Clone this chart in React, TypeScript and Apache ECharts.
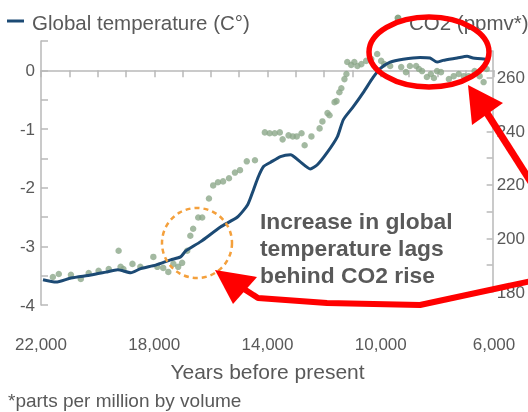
import { useEffect, useRef } from 'react';
import * as echarts from 'echarts';

// Global temperature (°C anomaly) – years before present
const tempYears = [21930, 21470, 20940, 20240, 19710, 19290, 18830, 18480, 17950, 17420, 17070, 16890, 16360, 15660, 15060, 14700, 14490, 14320, 14140, 13900, 13540, 13190, 12840, 12490, 12240, 11890, 11530, 11320, 10970, 10620, 10270, 10020, 9670, 9210, 8610, 8260, 8010, 7800, 7300, 6950, 6740, 6280];
const tempValues = [-3.57, -3.61, -3.54, -3.49, -3.44, -3.40, -3.45, -3.38, -3.32, -3.23, -3.18, -3.08, -2.92, -2.67, -2.50, -2.29, -2.03, -1.81, -1.64, -1.57, -1.47, -1.44, -1.56, -1.68, -1.61, -1.40, -1.13, -0.84, -0.62, -0.38, -0.12, 0.03, 0.14, 0.19, 0.22, 0.21, 0.14, 0.17, 0.21, 0.24, 0.21, 0.19];

// CO2 (ppmv) – years before present
const co2Years = [21580, 21370, 20940, 20590, 20310, 19960, 19600, 19250, 19180, 19080, 18760, 18480, 18020, 17880, 17670, 17490, 17310, 17140, 17000, 16820, 16710, 16610, 16430, 16290, 16050, 15900, 15730, 15550, 15340, 15130, 14950, 14710, 14420, 14070, 13900, 13720, 13540, 13440, 13230, 13080, 12940, 12770, 12660, 12420, 12130, 12030, 11850, 11780, 11600, 11530, 11430, 11360, 11250, 11180, 11150, 11010, 10900, 10790, 10650, 10480, 10300, 10090, 9950, 9840, 9630, 9240, 9070, 8930, 8710, 8610, 8500, 8330, 8190, 8080, 7970, 7830, 7550, 7380, 7200, 7020, 6850, 6640, 6460, 6320, 6210];
const co2Values = [185.6, 186.7, 186.4, 184.9, 187.1, 187.9, 188.6, 195.4, 189.4, 188.6, 190.5, 189.4, 193.1, 189.4, 189.0, 187.5, 190.5, 189.4, 190.9, 195.4, 201.0, 203.6, 207.8, 207.8, 214.9, 219.8, 221.0, 221.3, 222.5, 224.6, 225.5, 228.8, 229.2, 239.6, 239.3, 239.3, 239.6, 237.0, 238.5, 238.1, 238.1, 239.3, 234.8, 238.1, 241.1, 243.7, 246.8, 246.0, 250.9, 251.3, 254.6, 256.1, 259.5, 261.4, 265.9, 264.8, 265.9, 264.4, 265.1, 266.3, 267.0, 268.9, 266.3, 265.1, 264.4, 264.0, 262.1, 264.4, 264.4, 263.3, 262.5, 260.3, 261.4, 259.9, 262.5, 262.1, 259.5, 260.6, 261.4, 260.6, 260.6, 262.5, 260.6, 258.4, 263.3];

const xLabelYears = [22000, 18000, 14000, 10000, 6000];

const FONT = '"Liberation Sans", Arial, Helvetica, sans-serif';
const TEXT_GRAY = '#595959';
const AXIS_GRAY = '#b9b9b9';
const BLUE = '#1c4a74';
const GREEN = '#8ca889';
const RED = '#ff0000';
const ORANGE = '#f4a03c';

export default function App() {
  const ref = useRef<HTMLDivElement>(null);

  useEffect(() => {
    const chart = echarts.init(ref.current!, null, { renderer: 'svg' });
    const tempData = tempYears.map((y, i) => [y, tempValues[i]]);
    const co2Data = co2Years.map((y, i) => [y, co2Values[i]]);

    chart.setOption({
      animation: false,
      textStyle: { fontFamily: FONT },
      grid: [
        { left: 41, right: 34, top: 41, bottom: 107 },
        { left: 41, right: 34, top: 51, bottom: 120 },
      ],
      xAxis: [
        {
          type: 'value',
          gridIndex: 0,
          min: 6000,
          max: 22000,
          interval: 1000,
          inverse: true,
          offset: 18,
          name: 'Years before present',
          nameLocation: 'middle',
          nameGap: 38,
          nameTextStyle: { fontSize: 21, color: TEXT_GRAY, fontFamily: FONT },
          axisLine: { lineStyle: { color: AXIS_GRAY, width: 1.5 } },
          axisTick: { length: 7, lineStyle: { color: AXIS_GRAY, width: 1.5 } },
          splitLine: { show: false },
          axisLabel: {
            fontSize: 17,
            color: TEXT_GRAY,
            margin: 13,
            fontFamily: FONT,
            formatter: (v: number) =>
              xLabelYears.includes(Math.round(v)) ? Math.round(v).toLocaleString('en-US') : '',
          },
        },
        {
          type: 'value',
          gridIndex: 1,
          min: 6000,
          max: 22000,
          inverse: true,
          show: false,
        },
      ],
      yAxis: [
        {
          type: 'value',
          gridIndex: 0,
          min: -4,
          max: 0.5,
          interval: 0.5,
          position: 'left',
          axisLine: { show: true, lineStyle: { color: AXIS_GRAY, width: 1.5 } },
          axisTick: { show: true, inside: true, length: 7, lineStyle: { color: AXIS_GRAY, width: 1.5 } },
          splitLine: { show: false },
          axisLabel: {
            fontSize: 17,
            color: TEXT_GRAY,
            margin: 6,
            fontFamily: FONT,
            formatter: (v: number) =>
              Math.abs(v - Math.round(v)) < 1e-6 && v <= 0 ? String(Math.round(v)) : '',
          },
        },
        {
          type: 'value',
          gridIndex: 1,
          min: 180,
          max: 270,
          interval: 10,
          position: 'right',
          axisLine: { show: true, lineStyle: { color: AXIS_GRAY, width: 1.5 } },
          axisTick: { show: true, inside: true, length: 6, lineStyle: { color: AXIS_GRAY, width: 1.5 } },
          splitLine: { show: false },
          axisLabel: {
            fontSize: 17,
            color: TEXT_GRAY,
            margin: 4,
            fontFamily: FONT,
            formatter: (v: number) => (Math.round(v) % 20 === 0 ? String(Math.round(v)) : ''),
          },
        },
      ],
      series: [
        {
          type: 'scatter',
          name: 'CO2 (ppmv*)',
          xAxisIndex: 1,
          yAxisIndex: 1,
          data: co2Data,
          symbolSize: 6.5,
          itemStyle: { color: GREEN },
          z: 2,
        },
        {
          type: 'line',
          name: 'Global temperature (C°)',
          xAxisIndex: 0,
          yAxisIndex: 0,
          data: tempData,
          showSymbol: false,
          smooth: 0.2,
          lineStyle: { color: BLUE, width: 3 },
          z: 3,
        },
      ],
      graphic: [
        { type: 'line', shape: { x1: 7, y1: 21, x2: 24, y2: 21 }, style: { stroke: BLUE, lineWidth: 3 }, z: 50 },
        {
          type: 'text', x: 32, y: 22, z: 50,
          style: { text: 'Global temperature (C°)', fontSize: 20.5, fill: TEXT_GRAY, fontFamily: FONT, verticalAlign: 'middle' },
        },
        { type: 'circle', shape: { cx: 398, cy: 18, r: 3.5 }, style: { fill: GREEN }, z: 50 },
        {
          type: 'text', x: 409, y: 22, z: 50,
          style: { text: 'CO2 (ppmv*)', fontSize: 20.5, fill: TEXT_GRAY, fontFamily: FONT, verticalAlign: 'middle' },
        },
        {
          type: 'text', x: 260, y: 207, z: 50,
          style: {
            text: 'Increase in global\ntemperature lags\nbehind CO2 rise',
            fontSize: 22.8, fontWeight: 'bold', lineHeight: 27, fill: TEXT_GRAY, fontFamily: FONT, verticalAlign: 'top',
          },
        },
        {
          type: 'text', x: 8, y: 400, z: 50,
          style: { text: '*parts per million by volume', fontSize: 19, fill: TEXT_GRAY, fontFamily: FONT, verticalAlign: 'middle' },
        },
        {
          type: 'circle', shape: { cx: 197, cy: 243, r: 35 }, z: 90,
          style: { fill: 'none', stroke: ORANGE, lineWidth: 2.5, lineDash: [5, 4] },
        },
        {
          type: 'ellipse', shape: { cx: 429, cy: 52, rx: 60, ry: 35 }, z: 100,
          style: { fill: 'none', stroke: RED, lineWidth: 5.5 },
        },
        { type: 'line', shape: { x1: 485, y1: 110, x2: 536, y2: 190 }, style: { stroke: RED, lineWidth: 7 }, z: 100 },
        { type: 'polygon', shape: { points: [[468, 85], [472, 125], [503, 103]] }, style: { fill: RED }, z: 100 },
        {
          type: 'polyline', z: 100,
          shape: { points: [[244, 289], [258, 298], [327, 303], [420, 305], [536, 280]] },
          style: { stroke: RED, lineWidth: 6, fill: 'none', lineJoin: 'round' },
        },
        { type: 'polygon', shape: { points: [[215, 270], [233, 304], [257, 277]] }, style: { fill: RED }, z: 100 },
      ],
    });

    return () => chart.dispose();
  }, []);

  return <div ref={ref} style={{ position: 'fixed', left: 0, top: 0, width: 528, height: 412 }} />;
}
